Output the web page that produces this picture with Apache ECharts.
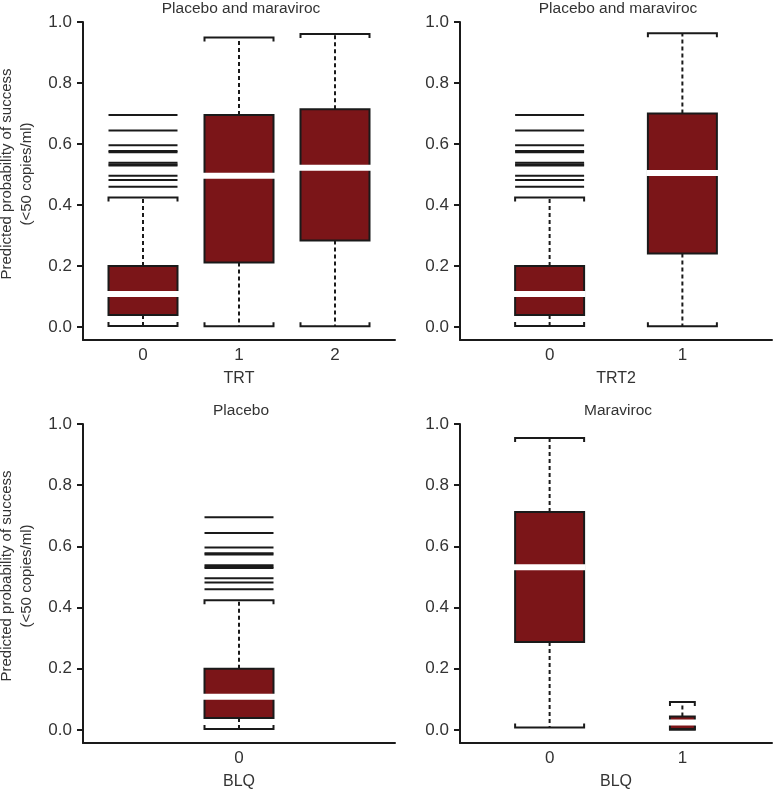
<!DOCTYPE html>
<html>
<head>
<meta charset="utf-8">
<script src="https://cdn.jsdelivr.net/npm/echarts@6/dist/echarts.min.js"></script>
<style>html,body{margin:0;padding:0;background:#fff;}#main{width:776px;height:789px;}</style>
</head>
<body>
<div id="main"></div>
<script>
// ---------- data ----------
const panelTitles = ['Placebo and maraviroc', 'Placebo and maraviroc', 'Placebo', 'Maraviroc'];
const xAxisNames = ['TRT', 'TRT2', 'BLQ', 'BLQ'];
const yAxisName = 'Predicted probability of success\n(<50 copies/ml)';
const yTickValues = [0, 0.2, 0.4, 0.6, 0.8, 1.0];

// Placebo group (shared by TRT=0, TRT2=0, Placebo BLQ=0)
const placeboOutliers = [0.695, 0.644, 0.596, 0.577, 0.573, 0.538, 0.533, 0.529, 0.496, 0.482, 0.460];

// Panel 1: TRT
const trtCategories = [0, 1, 2];
const trtLow    = [0.003, 0.002, 0.002];
const trtQ1     = [0.039, 0.211, 0.283];
const trtMedian = [0.108, 0.496, 0.522];
const trtQ3     = [0.200, 0.695, 0.714];
const trtHigh   = [0.424, 0.949, 0.961];
const trtRelWidth = [1, 1, 1];

// Panel 2: TRT2
const trt2Categories = [0, 1];
const trt2Low    = [0.003, 0.002];
const trt2Q1     = [0.039, 0.241];
const trt2Median = [0.108, 0.505];
const trt2Q3     = [0.200, 0.700];
const trt2High   = [0.424, 0.963];
const trt2RelWidth = [1, 1];

// Panel 3: Placebo, BLQ
const plaCategories = [0];
const plaLow    = [0.003];
const plaQ1     = [0.039];
const plaMedian = [0.108];
const plaQ3     = [0.200];
const plaHigh   = [0.424];
const plaRelWidth = [1];

// Panel 4: Maraviroc, BLQ
const marCategories = [0, 1];
const marLow    = [0.008, 0.000];
const marQ1     = [0.287, 0.003];
const marMedian = [0.532, 0.024];
const marQ3     = [0.712, 0.044];
const marHigh   = [0.954, 0.091];
const marRelWidth = [1, 0.36];

// ---------- layout ----------
const FONT = 'Liberation Sans, Arial, sans-serif';
const TEXT = '#333';
const INK = '#1a1a1a';
const FILL = '#7b1518';
const BOX_W = 69;

const panels = [
  {cats: trtCategories, low: trtLow, q1: trtQ1, med: trtMedian, q3: trtQ3, high: trtHigh, rw: trtRelWidth,
   outliers: [placeboOutliers, [], []], grid: {left: 83, top: 22, width: 312, height: 318}, xr: [-0.625, 2.625]},
  {cats: trt2Categories, low: trt2Low, q1: trt2Q1, med: trt2Median, q3: trt2Q3, high: trt2High, rw: trt2RelWidth,
   outliers: [placeboOutliers, []], grid: {left: 460, top: 22, width: 312, height: 318}, xr: [-0.675, 1.675]},
  {cats: plaCategories, low: plaLow, q1: plaQ1, med: plaMedian, q3: plaQ3, high: plaHigh, rw: plaRelWidth,
   outliers: [placeboOutliers], grid: {left: 83, top: 424, width: 312, height: 319}, xr: [-0.54, 0.54]},
  {cats: marCategories, low: marLow, q1: marQ1, med: marMedian, q3: marQ3, high: marHigh, rw: marRelWidth,
   outliers: [[], []], grid: {left: 460, top: 424, width: 312, height: 319}, xr: [-0.675, 1.675]}
];

function renderBox(params, api) {
  const c = api.value(0);
  const w = BOX_W * api.value(6);
  const x = api.coord([c, 0])[0];
  const yLow = api.coord([c, api.value(1)])[1];
  const yQ1 = api.coord([c, api.value(2)])[1];
  const yMed = api.coord([c, api.value(3)])[1];
  const yQ3 = api.coord([c, api.value(4)])[1];
  const yHigh = api.coord([c, api.value(5)])[1];
  const h = w / 2;
  const dashStyle = {stroke: INK, lineWidth: 2, lineDash: [4, 3], fill: null};
  const capStyle = {stroke: INK, lineWidth: 2, fill: null};
  return {
    type: 'group',
    children: [
      {type: 'line', shape: {x1: x, y1: yQ3, x2: x, y2: yHigh}, style: dashStyle},
      {type: 'line', shape: {x1: x, y1: yQ1, x2: x, y2: yLow}, style: dashStyle},
      {type: 'polyline', shape: {points: [[x - h, yHigh + 4], [x - h, yHigh], [x + h, yHigh], [x + h, yHigh + 4]]}, style: capStyle},
      {type: 'polyline', shape: {points: [[x - h, yLow - 4], [x - h, yLow], [x + h, yLow], [x + h, yLow - 4]]}, style: capStyle},
      {type: 'rect', shape: {x: x - h, y: yQ3, width: w, height: yQ1 - yQ3}, style: {fill: FILL, stroke: INK, lineWidth: 2}},
      {type: 'rect', shape: {x: x - h - 1.5, y: yMed - 3, width: w + 3, height: 6}, style: {fill: '#fff'}}
    ]
  };
}

function renderOutlier(params, api) {
  const c = api.value(0);
  const w = BOX_W * api.value(2);
  const p = api.coord([c, api.value(1)]);
  return {type: 'line', shape: {x1: p[0] - w / 2, y1: p[1], x2: p[0] + w / 2, y2: p[1]}, style: {stroke: INK, lineWidth: 2}};
}

const grids = [], xAxes = [], yAxes = [], series = [], graphics = [];
panels.forEach((p, i) => {
  grids.push(p.grid);
  xAxes.push({
    type: 'value', gridIndex: i, min: p.xr[0], max: p.xr[1],
    axisLine: {show: true, onZero: false, lineStyle: {color: INK, width: 2}},
    axisTick: {show: false},
    splitLine: {show: false},
    axisLabel: {customValues: p.cats, formatter: v => String(v), color: TEXT, fontFamily: FONT, fontSize: 17, margin: 7}
  });
  yAxes.push({
    type: 'value', gridIndex: i, min: -0.043, max: 1.0,
    axisLine: {show: true, onZero: false, lineStyle: {color: INK, width: 2}},
    axisTick: {show: true, length: 6, customValues: yTickValues, lineStyle: {color: INK, width: 2}},
    splitLine: {show: false},
    axisLabel: {customValues: yTickValues, formatter: v => v.toFixed(1), color: TEXT, fontFamily: FONT, fontSize: 17, margin: 11}
  });
  const boxData = p.cats.map((c, k) => [c, p.low[k], p.q1[k], p.med[k], p.q3[k], p.high[k], p.rw[k]]);
  series.push({type: 'custom', xAxisIndex: i, yAxisIndex: i, clip: false, renderItem: renderBox,
    encode: {x: 0, y: [1, 2, 3, 4, 5]}, data: boxData, silent: true});
  const outData = [];
  p.cats.forEach((c, k) => p.outliers[k].forEach(v => outData.push([c, v, p.rw[k]])));
  if (outData.length) {
    series.push({type: 'custom', xAxisIndex: i, yAxisIndex: i, clip: false, renderItem: renderOutlier,
      encode: {x: 0, y: 1}, data: outData, silent: true});
  }
  const cx = p.grid.left + p.grid.width / 2;
  const titleY = p.grid.top - 13;
  graphics.push({type: 'text', x: cx + 2, y: titleY, style: {text: panelTitles[i], fill: TEXT, font: '15.5px ' + FONT, align: 'center', verticalAlign: 'middle'}});
  graphics.push({type: 'text', x: cx, y: p.grid.top + p.grid.height + 39, style: {text: xAxisNames[i], fill: TEXT, font: '16px ' + FONT, align: 'center', verticalAlign: 'middle'}});
  if (i % 2 === 0) {
    graphics.push({type: 'text', x: 17, y: p.grid.top + 152, rotation: Math.PI / 2,
      style: {text: yAxisName, fill: TEXT, font: '15px ' + FONT, align: 'center', verticalAlign: 'middle', lineHeight: 20}});
  }
});

const chart = echarts.init(document.getElementById('main'), null, {renderer: 'canvas'});
chart.setOption({
  animation: false,
  backgroundColor: '#fff',
  grid: grids,
  xAxis: xAxes,
  yAxis: yAxes,
  series: series,
  graphic: graphics
});
</script>
</body>
</html>
